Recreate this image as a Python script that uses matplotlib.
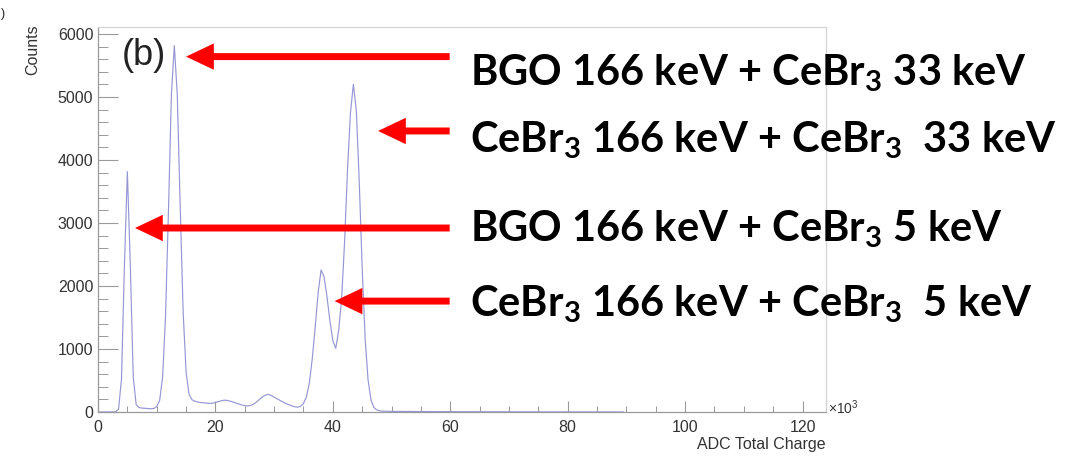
import numpy as np
import matplotlib
matplotlib.use("Agg")
import matplotlib.pyplot as plt

# ---- spectrum: counts per 0.5k ADC bin, starting at 0 ----
bin_width_k = 0.5
counts_peaks = [
    0, 0, 0, 0, 0, 1, 4, 45, 520, 2320,            # 0.0 - 4.5
    3815, 2340, 560, 115, 70, 62, 58, 55, 52, 55,   # 5.0 - 9.5
    85, 185, 550, 1510, 3190, 5030, 5815, 5040, 3270, 1590,  # 10.0 - 14.5
    640, 280, 195, 170, 158, 150, 145, 140, 136, 140,        # 15.0 - 19.5
    150, 165, 178, 188, 184, 172, 158, 142, 126, 112,        # 20.0 - 24.5
    100, 96, 104, 125, 158, 200, 240, 268, 280, 262,         # 25.0 - 29.5
    236, 208, 182, 158, 136, 116, 98, 84, 76, 90,            # 30.0 - 34.5
    135, 240, 460, 850, 1350, 1900, 2254, 2150, 1830, 1450,  # 35.0 - 39.5
    1130, 1010, 1300, 1800, 2700, 3850, 4750, 5200, 4780, 3650,  # 40.0 - 44.5
    2280, 1170, 510, 190, 70, 32, 18, 14, 12, 11,            # 45.0 - 49.5
]
counts_tail = [
    10, 10, 9, 10, 9, 8, 9, 8, 8, 7, 8, 7, 7, 6, 7, 6, 6, 6, 5, 6,
    5, 5, 5, 4, 5, 4, 4, 5, 4, 4, 4, 3, 4, 3, 4, 3, 3, 3, 3, 3,
    3, 3, 2, 3, 2, 3, 2, 2, 3, 2, 2, 2, 2, 2, 2, 2, 2, 1, 2, 2,
    1, 2, 1, 1, 2, 1, 1, 1, 1, 1, 1, 1, 1, 1, 1, 1, 1, 1, 1, 0,
]
counts = counts_peaks + counts_tail
charge_k = np.arange(len(counts)) * bin_width_k

x_major = [0, 20, 40, 60, 80, 100, 120]
y_major = [0, 1000, 2000, 3000, 4000, 5000, 6000]

# peak identifications: label, arrow tip (charge [k], counts), text baseline (counts)
peak_labels = [
    "BGO 166 keV + CeBr$_3$ 33 keV",
    "CeBr$_3$ 166 keV + CeBr$_3$  33 keV",
    "BGO 166 keV + CeBr$_3$ 5 keV",
    "CeBr$_3$ 166 keV + CeBr$_3$  5 keV",
]
arrow_tip_x = [15.0, 47.7, 6.3, 40.3]
arrow_tip_y = [5640, 4460, 2920, 1760]
label_y = [5190, 4125, 2700, 1510]

plt.rcParams["font.family"] = ["Liberation Sans", "DejaVu Sans"]
plt.rcParams["mathtext.default"] = "regular"

fig = plt.figure(figsize=(10.76, 4.61), dpi=100)
ax = fig.add_axes([98 / 1076, 1 - 412 / 461, (826 - 98) / 1076, (412 - 27) / 461])

ax.plot(charge_k, counts, color="#9696d6", lw=0.85)

ax.set_xlim(0, 124)
ax.set_ylim(0, 6110)
ax.set_xticks(x_major)
ax.set_xticks(np.arange(0, 124, 5), minor=True)
ax.set_yticks(y_major)
ax.set_yticks(np.arange(0, 6101, 200), minor=True)

axis_grey = "#9a9a9a"
for side in ("left", "bottom"):
    ax.spines[side].set_color(axis_grey)
    ax.spines[side].set_linewidth(0.9)
for side in ("top", "right"):
    ax.spines[side].set_color("#d4d4d4")
    ax.spines[side].set_linewidth(0.9)

ax.tick_params(axis="y", which="major", direction="in", length=14.5, width=0.8,
               color=axis_grey, labelsize=11.5, labelcolor="#333333", pad=3.4)
ax.tick_params(axis="y", which="minor", direction="in", length=7.5, width=0.7,
               color=axis_grey)
ax.tick_params(axis="x", which="major", direction="in", length=8, width=0.8,
               color=axis_grey, labelsize=11.5, labelcolor="#333333", pad=5.6)
ax.tick_params(axis="x", which="minor", direction="in", length=4.5, width=0.7,
               color=axis_grey)

fig.text(826 / 1076, 1 - 444 / 461, "ADC Total Charge", ha="right", va="center",
         fontsize=11.5, color="#333333")
fig.text(33 / 1076, 1 - 24 / 461, "Counts", rotation=90, ha="center", va="top",
         fontsize=11.5, color="#333333")
ax.text(1.003, 0.01, "×10$^{3}$", transform=ax.transAxes, ha="left", va="center",
        fontsize=10, color="#333333")

ax.text(0.032, 0.925, "(b)", transform=ax.transAxes, ha="left",
        va="center", fontsize=26, color="#222222")
fig.text(1 / 1076, 1 - 14 / 461, ")", fontsize=9, color="#222222", va="center",
         ha="left")

arrow_style = "simple,head_length=2.0,head_width=1.9,tail_width=0.5"
for label, tx, ty, ly in zip(peak_labels, arrow_tip_x, arrow_tip_y, label_y):
    ax.annotate("", xy=(tx, ty), xytext=(59.9, ty),
                arrowprops=dict(arrowstyle=arrow_style, mutation_scale=10,
                                color="#ff0000", shrinkA=0, shrinkB=0, lw=0),
                annotation_clip=False)
    ax.text(63.3, ly, label, family=["Lato", "DejaVu Sans"], fontweight="bold",
            fontsize=30, va="baseline", ha="left", color="black", clip_on=False)

fig.savefig("out.png", dpi=100)
